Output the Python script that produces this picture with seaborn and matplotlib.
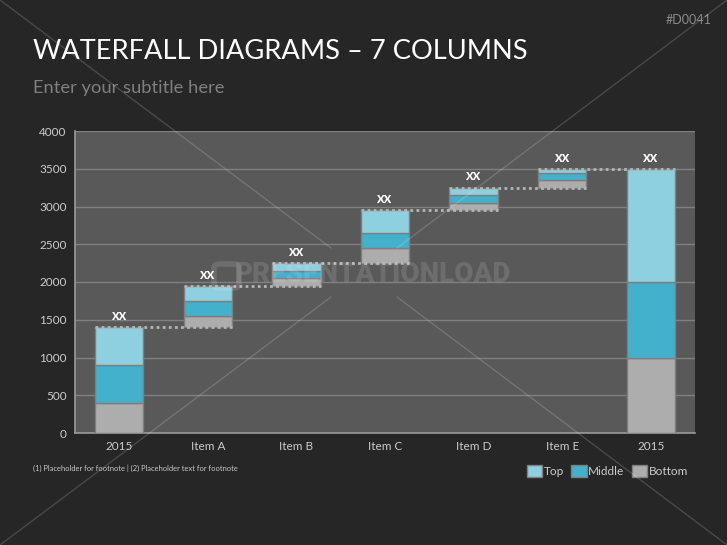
import numpy as np
import pandas as pd
import seaborn as sns
import matplotlib.pyplot as plt
from matplotlib.patches import Patch, FancyBboxPatch
from matplotlib.lines import Line2D

# data
categories = ["2015", "Item A", "Item B", "Item C", "Item D", "Item E", "2015 total"]
tick_labels = ["2015", "Item A", "Item B", "Item C", "Item D", "Item E", "2015"]
is_total = [True, False, False, False, False, False, True]
bottom_vals = [400, 150, 100, 200, 100, 100, 1000]
middle_vals = [500, 200, 100, 200, 100, 100, 1000]
top_vals = [500, 200, 100, 300, 100, 50, 1500]
bar_labels = ["xx"] * 7
series_names = ["Top", "Middle", "Bottom"]
yticks = [0, 500, 1000, 1500, 2000, 2500, 3000, 3500, 4000]

sns.set_theme(style="dark")
plt.rcParams['font.family'] = ['Lato', 'DejaVu Sans']

BG = "#262626"
PLOT_BG = "#595959"
C_TOP = "#8ecfe0"
C_MID = "#43b0cc"
C_BOT = "#adadad"
EDGE = "#7f7f7f"

# waterfall bases
bases = []
run = 0
for i in range(len(categories)):
    tot = bottom_vals[i] + middle_vals[i] + top_vals[i]
    if is_total[i]:
        bases.append(0)
        run = tot
    else:
        bases.append(run)
        run += tot
bases = np.array(bases)
b = np.array(bottom_vals)
m = np.array(middle_vals)
t = np.array(top_vals)
tops = bases + b + m + t

df = pd.DataFrame({"cat": categories, "bottom": b, "middle": m, "top": t})

fig = plt.figure(figsize=(7.27, 5.45), dpi=100, facecolor=BG)
ax = fig.add_axes([75 / 727, 1 - 433 / 545, 620 / 727, 302 / 545])
ax.set_facecolor(PLOT_BG)

w = 0.545
kw = dict(data=df, x="cat", order=categories, width=w, edgecolor=EDGE, linewidth=1.0, ax=ax, zorder=3)
sns.barplot(y="bottom", bottom=bases, color=C_BOT, saturation=1, **kw)
sns.barplot(y="middle", bottom=bases + b, color=C_MID, saturation=1, **kw)
sns.barplot(y="top", bottom=bases + b + m, color=C_TOP, saturation=1, **kw)

# dotted connectors
for i in range(len(categories) - 1):
    y = tops[i]
    ax.hlines(y, i - w / 2, i + 1 + w / 2, colors="#b5b5b5", linestyles=(0, (1, 1.2)),
              linewidth=2.0, zorder=4)

for i, lab in enumerate(bar_labels):
    ax.text(i, tops[i] + 55, lab, ha="center", va="bottom", color="white",
            fontsize=10.5, fontweight="bold", zorder=5)

ax.set_xlim(-0.5, 6.5)
ax.set_ylim(0, 4000)
ax.set_yticks(yticks)
ax.set_yticklabels([str(v) for v in yticks])
ax.set_xticks(range(len(categories)))
ax.set_xticklabels(tick_labels)
ax.set_xlabel("")
ax.set_ylabel("")
ax.tick_params(axis="both", colors="#cccccc", labelsize=8.5, length=0, pad=6)
ax.yaxis.grid(True, color="#808080", linewidth=1.0, zorder=0)
ax.set_axisbelow(True)
for side in ["top", "right"]:
    ax.spines[side].set_visible(False)
for side in ["left", "bottom"]:
    ax.spines[side].set_visible(True)
    ax.spines[side].set_color("#9a9a9a")
    ax.spines[side].set_linewidth(1.2)

# watermark
fig.text(373 / 727, 1 - 275 / 545, "PRESENTATIONLOAD", ha="center", va="center",
         fontsize=20, fontweight="heavy", color="white", alpha=0.12, zorder=10,
         family=["Roboto", "DejaVu Sans"], fontstretch="condensed")
fig.add_artist(FancyBboxPatch((214 / 727, 1 - 288 / 545), 25 / 727, 24 / 545,
                              boxstyle="round,pad=0,rounding_size=0.008",
                              transform=fig.transFigure, facecolor="none",
                              edgecolor="white", alpha=0.12, linewidth=4, zorder=10))

# decorative diagonals
diag = [((0, 0), (331, 248)), ((397, 297), (727, 545)),
        ((0, 545), (331, 297)), ((397, 248), (727, 0))]
for (x0, y0), (x1, y1) in diag:
    fig.add_artist(Line2D([x0 / 727, x1 / 727], [1 - y0 / 545, 1 - y1 / 545],
                          transform=fig.transFigure, color="white", alpha=0.16,
                          linewidth=1.0, zorder=20))

# texts
fig.text(33 / 727, 1 - 51 / 545, "WATERFALL DIAGRAMS \u2013 7 COLUMNS", color="white",
         fontsize=19.6, ha="left", va="center")
fig.text(33 / 727, 1 - 88 / 545, "Enter your subtitle here", color="#7f7f7f",
         fontsize=13.2, ha="left", va="center")
fig.text(712 / 727, 1 - 20 / 545, "#D0041", color="#8a8a8a", fontsize=9,
         ha="right", va="center")
fig.text(33 / 727, 1 - 468 / 545,
         "(1) Placeholder for footnote | (2) Placeholder text for footnote",
         color="#c8c8c8", fontsize=5.4, ha="left", va="center")

handles = [Patch(facecolor=C_TOP, edgecolor=EDGE), Patch(facecolor=C_MID, edgecolor=EDGE),
           Patch(facecolor=C_BOT, edgecolor=EDGE)]
leg = fig.legend(handles, series_names, loc="center right", bbox_to_anchor=(694 / 727, 1 - 471 / 545),
                 ncol=3, frameon=False, fontsize=8.5, handlelength=1.3, handleheight=1.3,
                 handletextpad=0.15, columnspacing=0.6, borderpad=0)
for txt in leg.get_texts():
    txt.set_color("#cccccc")

fig.savefig("out.png", dpi=100, facecolor=BG)
